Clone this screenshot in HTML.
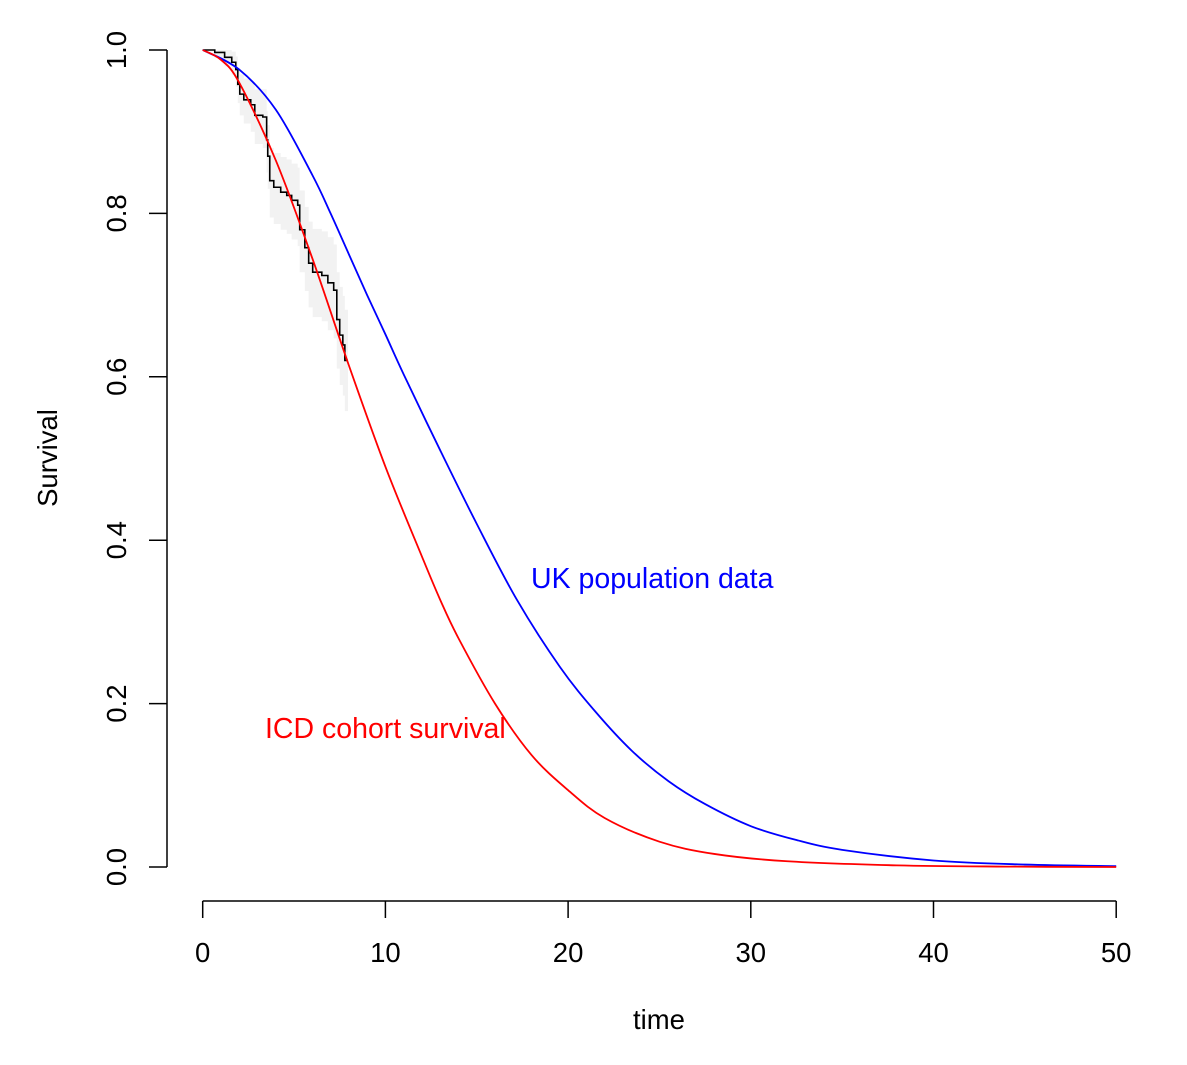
<!DOCTYPE html>
<html><head><meta charset="utf-8"><style>
body{margin:0;background:#fff}
svg text{font-family:"Liberation Sans",sans-serif}
</style></head><body>
<svg id="c" width="1187" height="1060" xmlns="http://www.w3.org/2000/svg">
<rect width="1187" height="1060" fill="#fff"/>
<g id="band"></g>
<g id="lines"></g>
<g id="axes"></g>
<text x="531" y="588" font-size="28.5" fill="#0000ff">UK population data</text>
<text x="265" y="738" font-size="28.5" fill="#ff0000">ICD cohort survival</text>
<text x="659" y="1029" font-size="27.5" text-anchor="middle">time</text>
<text x="57" y="458" font-size="27.5" text-anchor="middle" transform="rotate(-90 57 458)">Survival</text>
</svg>
<script>
const kmTimes=[0,0.66,1.2,1.59,1.81,1.92,2.03,2.25,2.63,2.85,3.29,3.5,3.56,3.67,3.89,4.27,4.6,4.87,5.2,5.31,5.59,5.8,6.02,6.52,6.85,7.17,7.34,7.5,7.67,7.78,7.95];
const kmSurv=[1,0.997,0.991,0.985,0.976,0.958,0.946,0.939,0.933,0.92,0.918,0.89,0.87,0.84,0.832,0.826,0.822,0.816,0.81,0.78,0.758,0.739,0.728,0.724,0.715,0.706,0.67,0.651,0.639,0.62,0.62];
const kmLower=[1,0.99,0.98,0.97,0.955,0.935,0.92,0.91,0.9,0.885,0.88,0.85,0.83,0.795,0.787,0.78,0.775,0.768,0.76,0.728,0.705,0.685,0.673,0.668,0.657,0.647,0.61,0.59,0.577,0.558,0.558];
const kmUpper=[1,1,1,0.998,0.992,0.978,0.97,0.965,0.96,0.952,0.952,0.925,0.908,0.88,0.874,0.869,0.866,0.861,0.856,0.828,0.808,0.79,0.781,0.778,0.771,0.762,0.728,0.71,0.699,0.682,0.682];
const redT=[0,1,2,4,6,8,10,12,13,14,16,18,20,22,25,28,32,38,44,50];
const redS=[1,0.988,0.96,0.865,0.745,0.614,0.49,0.38,0.327,0.28,0.2,0.137,0.094,0.06,0.031,0.016,0.007,0.002,0.0005,0];
const blueT=[0,2,4,6,7,8,9,10,11,13,15,17.2,19.55,21.5,23.5,25.5,27.5,30,32.5,35,40,45,50];
const blueS=[1,0.976,0.927,0.847,0.8,0.75,0.7,0.652,0.603,0.51,0.42,0.327,0.245,0.19,0.142,0.105,0.077,0.05,0.033,0.021,0.008,0.003,0.001];
const xTicks=[0,10,20,30,40,50];
const yTicks=[0,0.2,0.4,0.6,0.8,1.0];
const yTickLabels=["0.0","0.2","0.4","0.6","0.8","1.0"];
const X=t=>202.7+t*18.27, Y=s=>867-s*817;
const NS="http://www.w3.org/2000/svg";
function mk(tag,attrs,parent){const e=document.createElementNS(NS,tag);for(const k in attrs)e.setAttribute(k,attrs[k]);parent.appendChild(e);return e;}
const band=document.getElementById('band'),lines=document.getElementById('lines'),axes=document.getElementById('axes');
function stepPts(T,S){let p=[];for(let i=0;i<T.length;i++){if(i>0)p.push([X(T[i]),Y(S[i-1])]);p.push([X(T[i]),Y(S[i])]);}return p;}
const up=stepPts(kmTimes,kmUpper),lo=stepPts(kmTimes,kmLower).reverse();
const bp=mk('polygon',{points:up.concat(lo).map(p=>p.join(',')).join(' '),fill:'#f2f2f2',stroke:'none'},band);


const km=mk('polyline',{points:stepPts(kmTimes,kmSurv).map(p=>p.join(',')).join(' '),fill:'none',stroke:'#000','stroke-width':1.6},lines);


function smooth(T,S){const p=T.map((t,i)=>[X(t),Y(S[i])]);let d='M'+p[0];for(let i=0;i<p.length-1;i++){const p0=p[Math.max(i-1,0)],p1=p[i],p2=p[i+1],p3=p[Math.min(i+2,p.length-1)];const c1=[p1[0]+(p2[0]-p0[0])/6,p1[1]+(p2[1]-p0[1])/6],c2=[p2[0]-(p3[0]-p1[0])/6,p2[1]-(p3[1]-p1[1])/6];d+='C'+c1+' '+c2+' '+p2;}return d;}
const bl=mk('path',{d:smooth(blueT,blueS),fill:'none',stroke:'#0000ff','stroke-width':1.8},lines);


const rd=mk('path',{d:smooth(redT,redS),fill:'none',stroke:'#ff0000','stroke-width':1.8},lines);


const xa=mk('line',{x1:X(0),x2:X(50),y1:901,y2:901,stroke:'#000','stroke-width':1.5},axes);


xTicks.forEach(t=>{const l=mk('line',{x1:X(t),x2:X(t),y1:901,y2:918,stroke:'#000','stroke-width':1.5},axes);


const tx=mk('text',{x:X(t),y:962,'font-size':27.5,'text-anchor':'middle'},axes);tx.textContent=t;

});
const ya=mk('line',{x1:167,x2:167,y1:Y(0),y2:Y(1),stroke:'#000','stroke-width':1.5},axes);


yTicks.forEach((s,i)=>{const l=mk('line',{x1:149,x2:167,y1:Y(s),y2:Y(s),stroke:'#000','stroke-width':1.5},axes);


const tx=mk('text',{x:126,y:Y(s),'font-size':27.5,'text-anchor':'middle',transform:`rotate(-90 126 ${Y(s)})`},axes);tx.textContent=yTickLabels[i];

});
</script>
</body></html>
